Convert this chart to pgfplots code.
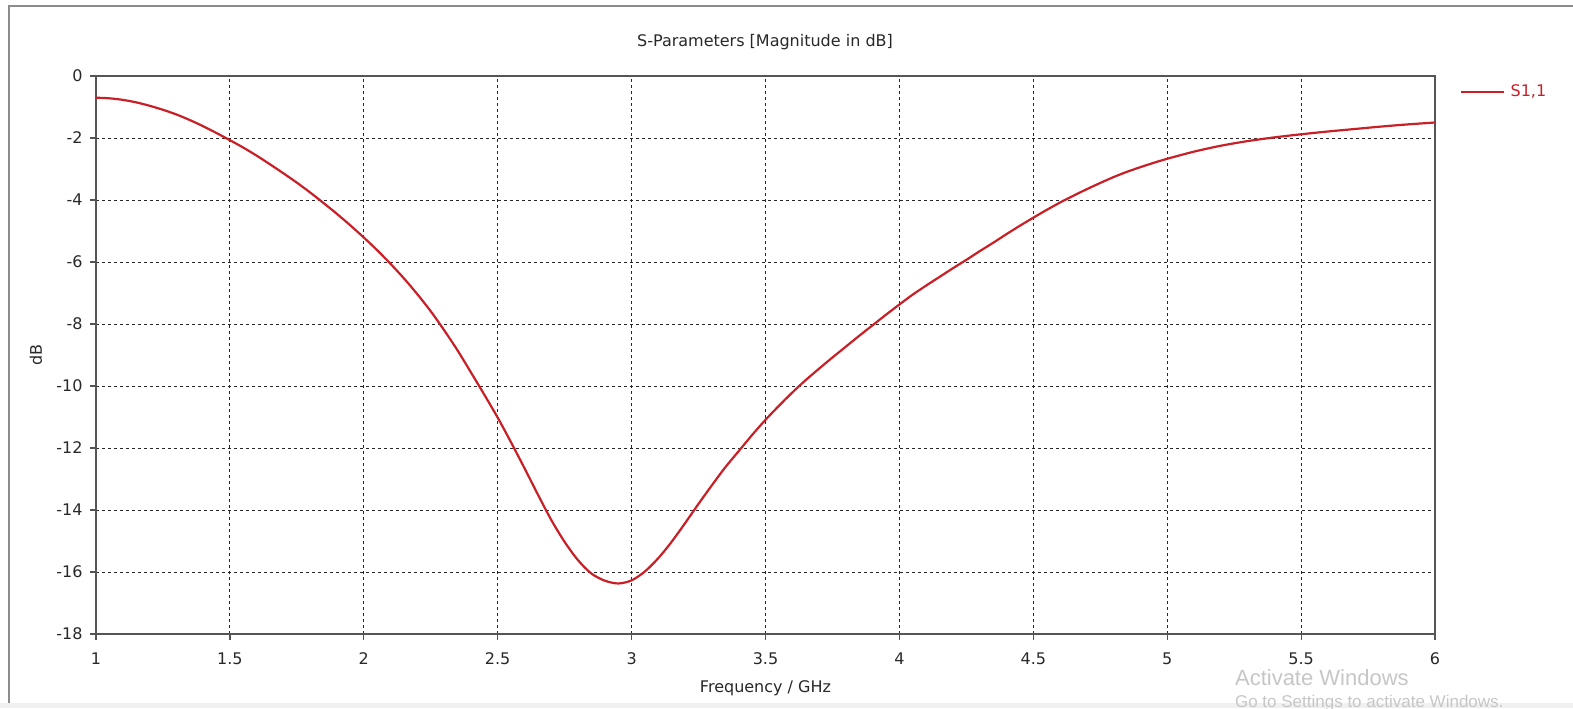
\documentclass[border=0pt]{standalone}
\usepackage{pgfplots}
\pgfplotsset{compat=1.18}
\usepackage{fontspec}
\setmainfont{DejaVu Sans}
\newfontfamily\winfont{Liberation Sans}
\definecolor{curvered}{RGB}{200,32,38}
\definecolor{axisgray}{RGB}{85,85,85}
\definecolor{framegray}{RGB}{140,140,140}
\definecolor{labelgray}{RGB}{40,40,40}

\begin{document}
\begin{tikzpicture}
\useasboundingbox (0pt,0pt) rectangle (786.5pt,354pt);
\fill[gray!12] (0pt,0pt) rectangle (786.5pt,2.5pt);
\draw[framegray, line width=1.3pt] (790pt,351pt) -- (4.5pt,351pt) -- (4.5pt,2.5pt);
\begin{axis}[
  scale only axis, width=669.5pt, height=279pt,
  at={(48pt,37pt)}, anchor=south west,
  xmin=1, xmax=6, ymin=-18, ymax=0,
  xtick={1,1.5,2,2.5,3,3.5,4,4.5,5,5.5,6},
  ytick={-18,-16,-14,-12,-10,-8,-6,-4,-2,0},
  xticklabels={1,1.5,2,2.5,3,3.5,4,4.5,5,5.5,6},
  /pgf/number format/assume math mode=true,
  tick pos=left, tick align=outside, major tick length=3pt,
  every tick/.style={axisgray, line width=0.6pt},
  axis line style={axisgray, line width=1pt},
  grid=major,
  major grid style={black!85, line width=0.5pt, dash pattern=on 1.5pt off 1.5pt},
  tick label style={font=\fontsize{8}{9.6}\selectfont, text=labelgray},
  xticklabel style={anchor=center, yshift=-9.5pt},
  yticklabel style={anchor=east, inner sep=0pt, xshift=-3.5pt},
  xlabel={Frequency / GHz}, ylabel={dB},
  label style={font=\fontsize{8}{9.6}\selectfont, text=labelgray},
  xlabel style={at={(axis description cs:0.5,0)}, anchor=center, yshift=-27pt},
  ylabel style={at={(axis description cs:0,0.5)}, anchor=center, yshift=30pt},
  legend style={at={(axis description cs:1,1)}, anchor=west, xshift=12pt, yshift=-8pt,
    draw=none, fill=none, inner sep=0pt, font=\fontsize{8}{9.6}\selectfont, text=curvered,
    nodes={inner sep=0pt}},
  legend image code/.code={\draw[#1] (0pt,0pt) -- (21.5pt,0pt);},
  /tikz/every odd column/.append style={column sep=3pt},
  clip=true,
]
\addplot[curvered, line width=1.1pt, smooth, tension=0.5] coordinates {
(1.00,-0.70) (1.05,-0.72) (1.10,-0.77) (1.15,-0.85) (1.20,-0.96) (1.25,-1.09)
(1.30,-1.24) (1.35,-1.42) (1.40,-1.62) (1.45,-1.84) (1.50,-2.07) (1.55,-2.31)
(1.60,-2.57) (1.65,-2.85) (1.70,-3.14) (1.75,-3.44) (1.80,-3.76) (1.85,-4.10)
(1.90,-4.45) (1.95,-4.82) (2.00,-5.21) (2.05,-5.62) (2.10,-6.06) (2.15,-6.53)
(2.20,-7.04) (2.25,-7.59) (2.30,-8.20) (2.35,-8.85) (2.40,-9.56) (2.45,-10.28)
(2.50,-11.02) (2.55,-11.82) (2.60,-12.65) (2.65,-13.50) (2.70,-14.32) (2.75,-15.03)
(2.80,-15.62) (2.85,-16.05) (2.90,-16.28) (2.95,-16.37) (3.00,-16.27) (3.05,-15.98)
(3.10,-15.55) (3.15,-15.02) (3.20,-14.42) (3.25,-13.80) (3.30,-13.20) (3.35,-12.62)
(3.40,-12.10) (3.45,-11.58) (3.50,-11.09) (3.55,-10.64) (3.60,-10.21) (3.65,-9.81)
(3.70,-9.44) (3.75,-9.08) (3.80,-8.73) (3.85,-8.38) (3.90,-8.04) (3.95,-7.70)
(4.00,-7.37) (4.05,-7.05) (4.10,-6.76) (4.15,-6.48) (4.20,-6.20) (4.25,-5.93)
(4.30,-5.65) (4.35,-5.38) (4.40,-5.10) (4.45,-4.83) (4.50,-4.57) (4.55,-4.32)
(4.60,-4.08) (4.65,-3.86) (4.70,-3.65) (4.75,-3.45) (4.80,-3.26) (4.85,-3.09)
(4.90,-2.94) (4.95,-2.80) (5.00,-2.67) (5.10,-2.44) (5.20,-2.25) (5.30,-2.10)
(5.40,-1.98) (5.50,-1.88) (5.60,-1.79) (5.70,-1.71) (5.80,-1.63) (5.90,-1.56)
(6.00,-1.50)
};
\addlegendentry{S1,1}
\end{axis}
\node[font=\fontsize{8}{9.6}\selectfont, text=labelgray] at (382.5pt,333pt) {S-Parameters [Magnitude in dB]};
\node[font=\winfont\fontsize{11}{13}\selectfont, text=gray!45, anchor=west] at (614pt,15pt) {Activate Windows};
\node[font=\winfont\fontsize{8.5}{10}\selectfont, text=gray!45, anchor=west] at (614pt,2.5pt) {Go to Settings to activate Windows.};
\end{tikzpicture}
\end{document}
